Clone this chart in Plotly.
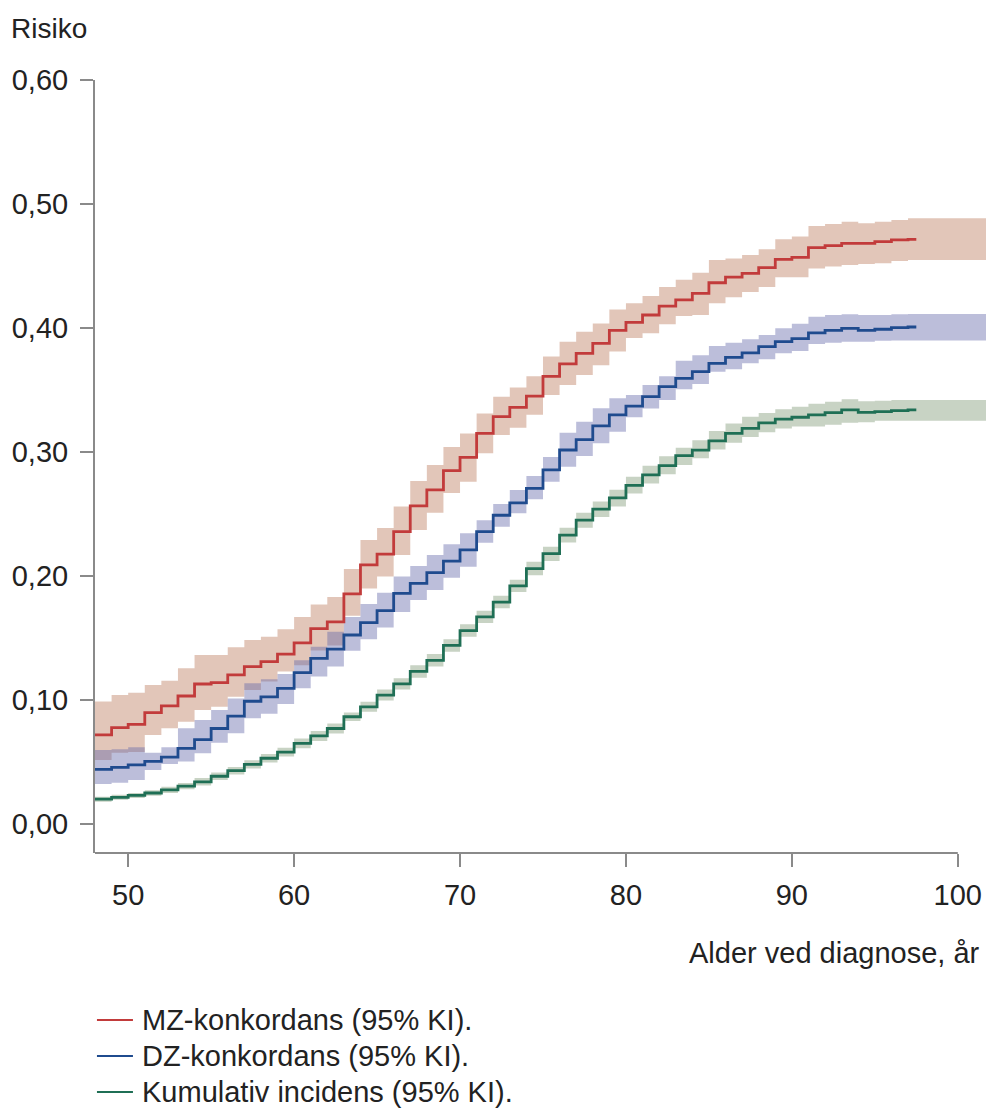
import plotly.graph_objects as go

# ---------------- data ----------------
ages = list(range(48, 98))  # step start ages 48..97
line_end_age = 97.5          # curves stop here
band_end_age = 102           # CI bands run on to the plot edge

mz = [0.0718, 0.0777, 0.0804, 0.0898, 0.0952, 0.1032, 0.1129, 0.1140, 0.1202, 0.1269,
      0.1310, 0.1370, 0.1460, 0.1575, 0.1630, 0.1855, 0.2090, 0.2177, 0.2357, 0.2565,
      0.2694, 0.2850, 0.2957, 0.3150, 0.3285, 0.3360, 0.3450, 0.3610, 0.3710, 0.3796,
      0.3876, 0.3980, 0.4045, 0.4105, 0.4177, 0.4226, 0.4280, 0.4365, 0.4410, 0.4440,
      0.4487, 0.4554, 0.4570, 0.4648, 0.4664, 0.4683, 0.4683, 0.4696, 0.4710, 0.4715]
mz_lo = [0.0516, 0.0575, 0.0580, 0.0718, 0.0772, 0.0825, 0.0920, 0.0946, 0.1027, 0.1080,
         0.1150, 0.1230, 0.1280, 0.1400, 0.1440, 0.1680, 0.1900, 0.1995, 0.2170, 0.2370,
         0.2510, 0.2670, 0.2760, 0.2990, 0.3137, 0.3196, 0.3300, 0.3460, 0.3540, 0.3620,
         0.3700, 0.3810, 0.3920, 0.3957, 0.4030, 0.4097, 0.4105, 0.4200, 0.4247, 0.4290,
         0.4330, 0.4410, 0.4410, 0.4480, 0.4495, 0.4508, 0.4516, 0.4522, 0.4540, 0.4548]
mz_hi = [0.0987, 0.1040, 0.1059, 0.1120, 0.1156, 0.1255, 0.1363, 0.1363, 0.1425, 0.1484,
         0.1510, 0.1570, 0.1670, 0.1770, 0.1830, 0.2056, 0.2290, 0.2387, 0.2560, 0.2766,
         0.2895, 0.3040, 0.3150, 0.3310, 0.3446, 0.3520, 0.3610, 0.3770, 0.3890, 0.3970,
         0.4037, 0.4150, 0.4200, 0.4258, 0.4330, 0.4390, 0.4446, 0.4548, 0.4560, 0.4589,
         0.4635, 0.4715, 0.4737, 0.4823, 0.4839, 0.4857, 0.4844, 0.4857, 0.4870, 0.4885]

dz = [0.0440, 0.0457, 0.0476, 0.0505, 0.0540, 0.0610, 0.0680, 0.0770, 0.0870, 0.0990,
      0.1025, 0.1094, 0.1220, 0.1336, 0.1410, 0.1524, 0.1624, 0.1720, 0.1860, 0.1940,
      0.2027, 0.2120, 0.2210, 0.2357, 0.2490, 0.2590, 0.2707, 0.2855, 0.3016, 0.3100,
      0.3210, 0.3300, 0.3370, 0.3446, 0.3527, 0.3594, 0.3648, 0.3715, 0.3763, 0.3800,
      0.3850, 0.3890, 0.3915, 0.3960, 0.3980, 0.3997, 0.3980, 0.3990, 0.4003, 0.4008]
dz_lo = [0.0323, 0.0333, 0.0355, 0.0435, 0.0484, 0.0503, 0.0570, 0.0656, 0.0731, 0.0852,
         0.0890, 0.0968, 0.1094, 0.1190, 0.1270, 0.1398, 0.1490, 0.1585, 0.1710, 0.1806,
         0.1887, 0.1985, 0.2075, 0.2269, 0.2398, 0.2505, 0.2618, 0.2760, 0.2880, 0.2968,
         0.3070, 0.3164, 0.3280, 0.3350, 0.3420, 0.3505, 0.3548, 0.3648, 0.3667, 0.3715,
         0.3747, 0.3796, 0.3814, 0.3870, 0.3880, 0.3890, 0.3890, 0.3897, 0.3900, 0.3900]
dz_hi = [0.0597, 0.0602, 0.0618, 0.0575, 0.0618, 0.0772, 0.0839, 0.0920, 0.1013, 0.1134,
         0.1167, 0.1210, 0.1320, 0.1430, 0.1550, 0.1670, 0.1774, 0.1865, 0.1995, 0.2080,
         0.2170, 0.2255, 0.2344, 0.2450, 0.2580, 0.2694, 0.2806, 0.2960, 0.3156, 0.3244,
         0.3352, 0.3433, 0.3460, 0.3540, 0.3610, 0.3736, 0.3780, 0.3855, 0.3880, 0.3910,
         0.3944, 0.3997, 0.4034, 0.4090, 0.4105, 0.4110, 0.4105, 0.4105, 0.4110, 0.4113]

ci = [0.0200, 0.0215, 0.0230, 0.0250, 0.0275, 0.0305, 0.0340, 0.0385, 0.0430, 0.0480,
      0.0530, 0.0580, 0.0650, 0.0710, 0.0770, 0.0865, 0.0945, 0.1040, 0.1130, 0.1230,
      0.1320, 0.1440, 0.1560, 0.1670, 0.1790, 0.1920, 0.2060, 0.2180, 0.2330, 0.2450,
      0.2540, 0.2630, 0.2730, 0.2815, 0.2890, 0.2970, 0.3015, 0.3090, 0.3150, 0.3190,
      0.3235, 0.3265, 0.3280, 0.3300, 0.3317, 0.3340, 0.3320, 0.3325, 0.3333, 0.3340]
ci_lo = [0.0180, 0.0195, 0.0210, 0.0228, 0.0250, 0.0280, 0.0310, 0.0355, 0.0400, 0.0447,
         0.0495, 0.0545, 0.0610, 0.0670, 0.0730, 0.0830, 0.0905, 0.0995, 0.1085, 0.1180,
         0.1270, 0.1390, 0.1510, 0.1620, 0.1740, 0.1870, 0.2005, 0.2120, 0.2270, 0.2390,
         0.2475, 0.2560, 0.2665, 0.2745, 0.2820, 0.2895, 0.2950, 0.3020, 0.3075, 0.3120,
         0.3160, 0.3190, 0.3205, 0.3205, 0.3220, 0.3236, 0.3240, 0.3252, 0.3252, 0.3252]
ci_hi = [0.0220, 0.0235, 0.0250, 0.0272, 0.0300, 0.0330, 0.0370, 0.0415, 0.0460, 0.0513,
         0.0565, 0.0615, 0.0690, 0.0750, 0.0810, 0.0900, 0.0985, 0.1085, 0.1175, 0.1280,
         0.1370, 0.1490, 0.1610, 0.1720, 0.1840, 0.1970, 0.2115, 0.2235, 0.2390, 0.2510,
         0.2600, 0.2695, 0.2800, 0.2890, 0.2965, 0.3035, 0.3095, 0.3170, 0.3230, 0.3285,
         0.3315, 0.3345, 0.3365, 0.3390, 0.3405, 0.3425, 0.3410, 0.3414, 0.3420, 0.3420]

series_names = ["MZ-konkordans (95% KI).", "DZ-konkordans (95% KI).", "Kumulativ incidens (95% KI)."]

x_ticks = [50, 60, 70, 80, 90, 100]
y_ticks = [0.0, 0.1, 0.2, 0.3, 0.4, 0.5, 0.6]
y_ticktext = ["0,00", "0,10", "0,20", "0,30", "0,40", "0,50", "0,60"]

y_title = "Risiko"
x_title = "Alder ved diagnose, år"

# ---------------- styling ----------------
FONT = "Liberation Sans, Arial, sans-serif"
TXT = "#222222"
AX = "#8a8a8a"
line_colors = ["#c23b3b", "#1f4b8e", "#1f6f55"]
band_colors = ["rgba(190,128,100,0.45)", "rgba(100,105,170,0.43)", "rgba(110,140,100,0.38)"]

x_lo_rng, x_hi_rng = 48, 101.7
y_lo_rng, y_hi_rng = -0.0234, 0.60

fig = go.Figure()

series = [(mz, mz_lo, mz_hi), (dz, dz_lo, dz_hi), (ci, ci_lo, ci_hi)]

band_x = ages + [band_end_age]
for (v, lo, hi), bc in zip(series, band_colors):
    fig.add_trace(go.Scatter(x=band_x, y=hi + [hi[-1]], mode="lines", line=dict(width=0, shape="hv"),
                             hoverinfo="skip", showlegend=False))
    fig.add_trace(go.Scatter(x=band_x, y=lo + [lo[-1]], mode="lines", line=dict(width=0, shape="hv"),
                             fill="tonexty", fillcolor=bc, hoverinfo="skip", showlegend=False))

line_x = ages + [line_end_age]
for (v, lo, hi), lc, nm in zip(series, line_colors, series_names):
    fig.add_trace(go.Scatter(x=line_x, y=v + [v[-1]], mode="lines", name=nm,
                             line=dict(color=lc, width=2.8, shape="hv"), showlegend=False))

# x-axis line only from 48 to 100
fig.add_shape(type="line", xref="x", yref="paper", x0=x_lo_rng, x1=x_ticks[-1], y0=0, y1=0,
              line=dict(color=AX, width=2))

# manual legend (paper coords)
leg_rows = [-0.2160, -0.2626, -0.3092]
for nm, lc, yy in zip(series_names, line_colors, leg_rows):
    fig.add_shape(type="line", xref="paper", yref="paper", x0=0.0022, x1=0.0426, y0=yy, y1=yy,
                  line=dict(color=lc, width=2))
    fig.add_annotation(text=nm, xref="paper", yref="paper", x=0.050, y=yy,
                       xanchor="left", yanchor="middle", showarrow=False,
                       font=dict(family=FONT, size=29, color=TXT))

fig.add_annotation(text=y_title, xref="paper", yref="paper", x=-0.097, y=1.067,
                   xanchor="left", yanchor="middle", showarrow=False,
                   font=dict(family=FONT, size=28, color=TXT))
fig.add_annotation(text=x_title, xref="paper", yref="paper", x=0.996, y=-0.1294,
                   xanchor="right", yanchor="middle", showarrow=False,
                   font=dict(family=FONT, size=29, color=TXT))

fig.update_layout(
    width=986, height=1113,
    margin=dict(l=95, r=0, t=80, b=260, autoexpand=False),
    paper_bgcolor="white", plot_bgcolor="white",
    font=dict(family=FONT, size=29, color=TXT),
    xaxis=dict(range=[x_lo_rng, x_hi_rng], tickvals=x_ticks, ticks="outside", ticklen=13,
               tickwidth=2, tickcolor=AX, showline=False, showgrid=False, zeroline=False,
               tickfont=dict(family=FONT, size=29, color=TXT), ticklabelstandoff=3),
    yaxis=dict(range=[y_lo_rng, y_hi_rng], tickvals=y_ticks, ticktext=y_ticktext,
               ticks="outside", ticklen=13, tickwidth=2, tickcolor=AX,
               showline=True, linecolor=AX, linewidth=2, showgrid=False, zeroline=False,
               tickfont=dict(family=FONT, size=29, color=TXT), ticklabelstandoff=6),
    showlegend=False,
)

# remove the default page margin so the figure fills the window exactly
fig.write_html("out.html", config={"displayModeBar": False},
               post_script="document.body.style.margin='0';document.body.style.overflow='hidden';")
